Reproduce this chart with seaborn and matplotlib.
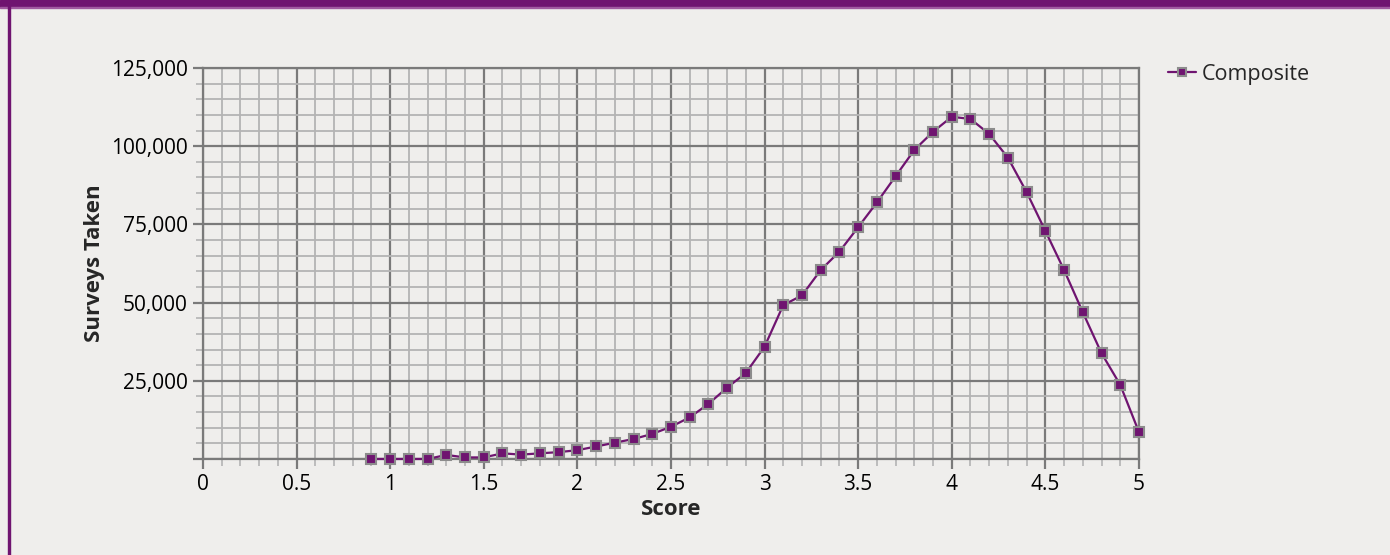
import numpy as np
import pandas as pd
import seaborn as sns
import matplotlib.pyplot as plt
from matplotlib.ticker import MultipleLocator, FuncFormatter

# values
scores = [0.9, 1.0, 1.1, 1.2, 1.3, 1.4, 1.5, 1.6, 1.7, 1.8,
          1.9, 2.0, 2.1, 2.2, 2.3, 2.4, 2.5, 2.6, 2.7, 2.8,
          2.9, 3.0, 3.1, 3.2, 3.3, 3.4, 3.5, 3.6, 3.7, 3.8,
          3.9, 4.0, 4.1, 4.2, 4.3, 4.4, 4.5, 4.6, 4.7, 4.8,
          4.9, 5.0]
surveys = [0, 0, 0, 0, 1300, 500, 500, 1800, 1400, 1800,
           2200, 2800, 4000, 5200, 6400, 8000, 10300, 13300, 17600, 22800,
           27500, 35900, 49200, 52300, 60400, 66300, 74100, 82000, 90400, 98800,
           104600, 109400, 108700, 103900, 96300, 85300, 72900, 60400, 46900, 33800,
           23700, 8600]
series_name = 'Composite'

df = pd.DataFrame({'Score': scores, 'Surveys Taken': surveys, 'series': series_name})

purple = '#6f1470'
bg = '#efeeec'

sns.set_style('white')
plt.rcParams['font.family'] = ['Open Sans', 'DejaVu Sans']

fig = plt.figure(figsize=(13.9, 5.55), dpi=100, facecolor=bg)
ax = fig.add_axes([0.146, 0.173, 0.6734, 0.7045])
ax.set_facecolor(bg)

# purple header band and left border
fig.patches.append(plt.Rectangle((0, 0.987), 1, 0.013, transform=fig.transFigure,
                                 color=purple, zorder=0))
fig.patches.append(plt.Rectangle((0, 0.985), 1, 0.003, transform=fig.transFigure,
                                 color='#a05aa0', zorder=0))
fig.patches.append(plt.Rectangle((0.0058, 0), 0.0016, 1, transform=fig.transFigure,
                                 color=purple, zorder=0))

sns.lineplot(data=df, x='Score', y='Surveys Taken', hue='series', palette=[purple],
             marker='s', markersize=7, markerfacecolor=purple, markeredgecolor='#8c8c8c',
             markeredgewidth=1.5, linewidth=1.6, ax=ax, zorder=5, clip_on=False)

ax.set_xlim(0, 5)
ax.set_ylim(0, 125000)
ax.xaxis.set_major_locator(MultipleLocator(0.5))
ax.xaxis.set_minor_locator(MultipleLocator(0.1))
ax.yaxis.set_major_locator(MultipleLocator(25000))
ax.yaxis.set_minor_locator(MultipleLocator(5000))
ax.xaxis.set_major_formatter(FuncFormatter(lambda v, p: f'{v:g}'))
ax.yaxis.set_major_formatter(FuncFormatter(lambda v, p: '' if v == 0 else f'{int(v):,}'))

ax.grid(which='minor', color='#b4b4b4', linewidth=1.3, zorder=1)
ax.grid(which='major', color='#7a7a7a', linewidth=1.6, zorder=2)
ax.set_axisbelow(True)
for s in ax.spines.values():
    s.set_color('#7a7a7a')
    s.set_linewidth(1.6)

ax.tick_params(which='major', direction='out', length=7, width=1.6, color='#7a7a7a',
               labelsize=15, labelcolor='black', bottom=True, left=True, pad=4)
ax.tick_params(which='minor', direction='out', length=5, width=1.2, color='#b4b4b4',
               bottom=True, left=True)

ax.set_xlabel('Score', fontsize=16, fontweight='bold', labelpad=3)
ax.set_ylabel('Surveys Taken', fontsize=16, fontweight='bold', labelpad=4)

ax.legend(loc='upper left', bbox_to_anchor=(1.01, 1.06), frameon=False, fontsize=15.5,
          handlelength=1.3, handletextpad=0.3, markerscale=0.8)

fig.savefig('out.png', dpi=100, facecolor=bg)
